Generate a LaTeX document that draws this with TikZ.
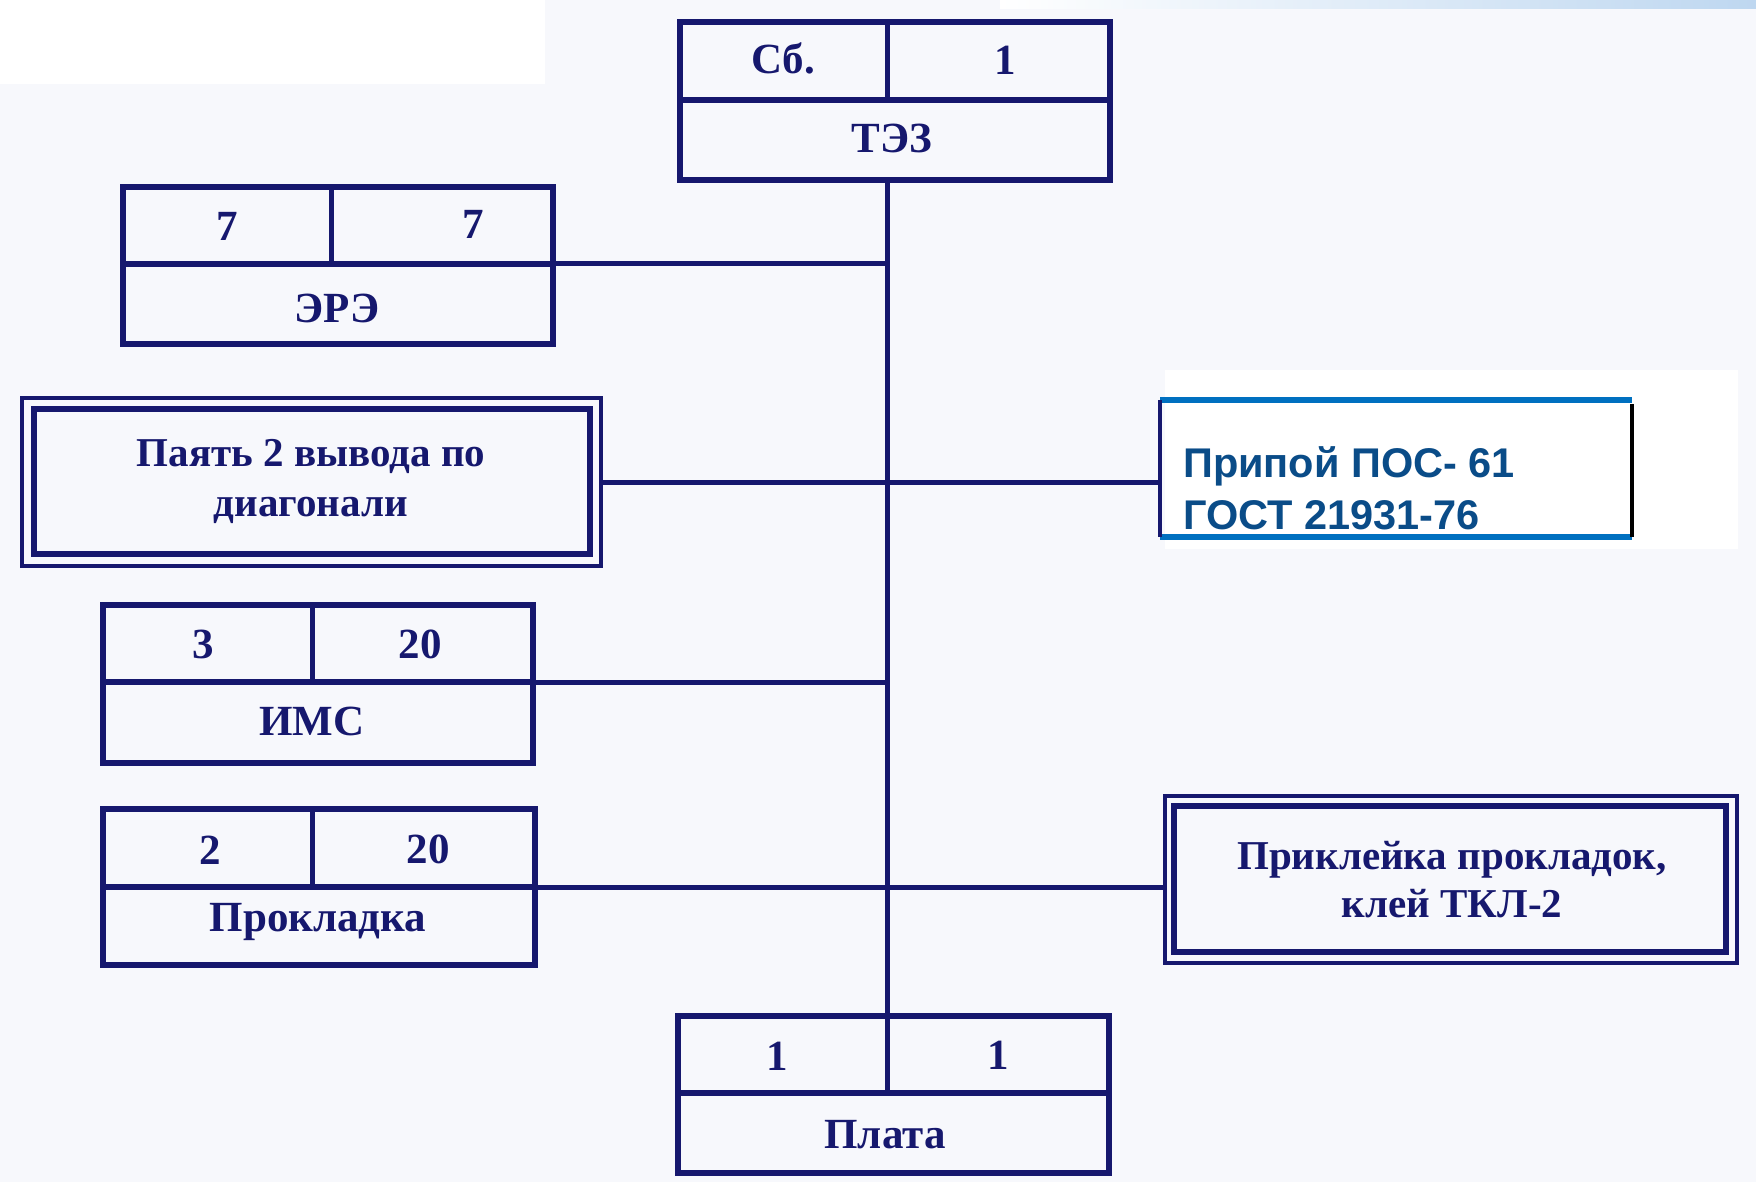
\documentclass[tikz,border=0pt]{standalone}
\usepackage{fontspec}
\setmainfont{Liberation Serif}
\newfontfamily\sansf{Liberation Sans}
\definecolor{navy}{RGB}{22,24,110}
\definecolor{bgc}{RGB}{247,248,252}
\definecolor{pblue}{RGB}{0,112,192}
\definecolor{ptext}{RGB}{10,76,136}
\definecolor{skyb}{RGB}{190,215,240}
\begin{document}
\begin{tikzpicture}[x=1pt,y=-1pt,
  tbl/.style={draw=navy, line width=5.5pt, inner sep=0pt, outer sep=0pt, anchor=north west},
  lbl/.style={text=navy, font=\fontsize{43}{50}\selectfont\bfseries, inner sep=0pt},
  dv/.style={draw=navy, line width=5pt},
  conn/.style={draw=navy, line width=5pt},
  txt/.style={text=navy, font=\fontsize{41}{50}\selectfont\bfseries, align=center, inner sep=0pt}
]
\useasboundingbox (0,0) rectangle (1756,1182);
\fill[bgc] (0,0) rectangle (1756,1182);
\fill[white] (0,0) rectangle (545,84);
\shade[left color=white, right color=skyb] (1000,0) rectangle (1756,9);
\fill[white] (1165,370) rectangle (1738,549);
\coordinate (trunk) at (887,0);

% TEZ
\node[tbl, minimum width=430, minimum height=78] (tezT) at (680,22) {};
\node[tbl, minimum width=430, minimum height=80] (tezB) at (680,100) {};
\draw[dv] (887,22) -- (887,100);
\node[lbl] (tezA) at (783,58) {Сб.};
\node[lbl] (tezN) at (1005,60) {1};
\node[lbl] (tezL) at (892,138) {ТЭЗ};

% ERE
\node[tbl, minimum width=430, minimum height=77] (ereT) at (123,187) {};
\node[tbl, minimum width=430, minimum height=80] (ereB) at (123,264) {};
\draw[dv] (331,187) -- (331,264);
\node[lbl] (ereA) at (227,226) {7};
\node[lbl] (ereN) at (473,224) {7};
\node[lbl] (ereL) at (337,308) {ЭРЭ};

% Payat double box
\node[draw=navy, line width=4.5pt, inner sep=0pt, outer sep=0pt, anchor=north west,
      minimum width=579, minimum height=168] (payat) at (22,398) {};
\node[draw=navy, line width=5.5pt, inner sep=0pt, outer sep=0pt, anchor=north west,
      minimum width=556, minimum height=145] (payatIn) at (34,409) {};
\node[txt] (payatL) at (311,481) {Паять 2 вывода по\\диагонали};

% Pripoy
\node[inner sep=0pt, outer sep=0pt, anchor=north west, minimum width=472, minimum height=137] (pripoy) at (1160,400) {};
\draw[pblue, line width=5.5pt] (pripoy.north west) -- (pripoy.north east);
\draw[pblue, line width=5.5pt] (pripoy.south west) -- (pripoy.south east);
\draw[navy, line width=4pt] (pripoy.north west) -- (pripoy.south west);
\draw[black, line width=4pt] ([yshift=-4pt]pripoy.north east) -- (pripoy.south east);
\node[anchor=west, align=left, inner sep=0pt, text=ptext,
      font=\sansf\fontsize{41.5}{52}\selectfont\bfseries] (pripoyL) at (1183,488) {Припой ПОС- 61\\ГОСТ 21931-76};

% IMS
\node[tbl, minimum width=430, minimum height=77] (imsT) at (103,605) {};
\node[tbl, minimum width=430, minimum height=81] (imsB) at (103,682) {};
\draw[dv] (312,605) -- (312,682);
\node[lbl] (imsA) at (203,644) {3};
\node[lbl] (imsN) at (420,644) {20};
\node[lbl] (imsL) at (312,721) {ИМС};

% Prokladka
\node[tbl, minimum width=432, minimum height=78] (prT) at (103,809) {};
\node[tbl, minimum width=432, minimum height=78] (prB) at (103,887) {};
\draw[dv] (312,809) -- (312,887);
\node[lbl] (prA) at (210,850) {2};
\node[lbl] (prN) at (428,849) {20};
\node[lbl] (prL) at (318,922) {Прокладка};

% Prikleyka double box
\node[draw=navy, line width=4.5pt, inner sep=0pt, outer sep=0pt, anchor=north west,
      minimum width=572, minimum height=167] (prikl) at (1165,796) {};
\node[draw=navy, line width=5.5pt, inner sep=0pt, outer sep=0pt, anchor=north west,
      minimum width=552, minimum height=146] (priklIn) at (1174,806) {};
\node[txt, font=\fontsize{41}{48}\selectfont\bfseries] (priklL) at (1452,880) {Приклейка прокладок,\\клей ТКЛ-2};

% Plata
\node[tbl, minimum width=431, minimum height=77] (plT) at (678,1016) {};
\node[tbl, minimum width=431, minimum height=80] (plB) at (678,1093) {};
\draw[dv] (887,1016) -- (887,1093);
\node[lbl] (plA) at (777,1056) {1};
\node[lbl] (plN) at (998,1055) {1};
\node[lbl] (plL) at (885,1135) {Плата};

% connectors
\draw[conn] (tezB.south -| trunk) -- (plT.north -| trunk);
\draw[conn] (ereT.south east) -- (ereT.south east -| trunk);
\draw[conn] (payat.east) -- (payat.east -| pripoy.west);
\draw[conn] (imsT.south east) -- (imsT.south east -| trunk);
\draw[conn] (prT.south east) -- (prT.south east -| prikl.west);
\end{tikzpicture}
\end{document}
